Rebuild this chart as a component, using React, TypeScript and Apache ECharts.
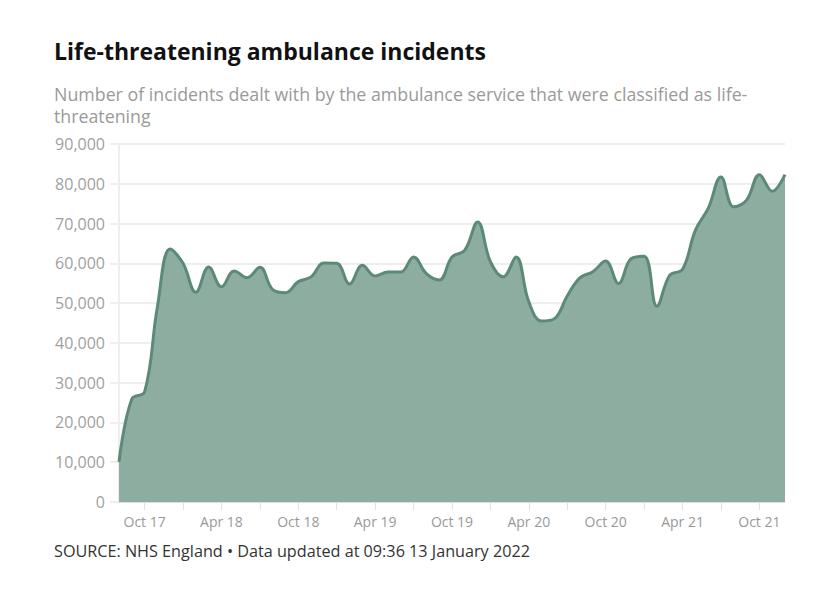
import React, { useEffect, useRef } from "react";
import * as echarts from "echarts";

const months: string[] = [
  "Aug 17", "Sep 17", "Oct 17", "Nov 17", "Dec 17",
  "Jan 18", "Feb 18", "Mar 18", "Apr 18", "May 18", "Jun 18", "Jul 18", "Aug 18", "Sep 18", "Oct 18", "Nov 18", "Dec 18",
  "Jan 19", "Feb 19", "Mar 19", "Apr 19", "May 19", "Jun 19", "Jul 19", "Aug 19", "Sep 19", "Oct 19", "Nov 19", "Dec 19",
  "Jan 20", "Feb 20", "Mar 20", "Apr 20", "May 20", "Jun 20", "Jul 20", "Aug 20", "Sep 20", "Oct 20", "Nov 20", "Dec 20",
  "Jan 21", "Feb 21", "Mar 21", "Apr 21", "May 21", "Jun 21", "Jul 21", "Aug 21", "Sep 21", "Oct 21", "Nov 21", "Dec 21",
];

const incidents: number[] = [
  10100, 25900, 27700, 49100, 63600,
  60000, 52700, 59100, 54100, 58100, 56400, 59000, 53400, 52600, 55400, 56600, 60100,
  60000, 54800, 59500, 56800, 57800, 57800, 61600, 57400, 55800, 61600, 63300, 70400,
  60400, 56600, 61600, 50300, 45500, 46100, 51800, 56400, 57900, 60600, 54900, 61200,
  61800, 49200, 57000, 58500, 68300, 73800, 81700, 74200, 75900, 82300, 78100, 82300,
];

const yTicks = { min: 0, max: 90000, step: 10000 };

const TITLE = "Life-threatening ambulance incidents";
const SUBTITLE = "Number of incidents dealt with by the ambulance service that were classified as life-\nthreatening";
const SOURCE = "SOURCE: NHS England \u2022 Data updated at 09:36 13 January 2022";

export default function App() {
  const ref = useRef<HTMLDivElement>(null);
  useEffect(() => {
    if (!ref.current) return;
    const chart = echarts.init(ref.current, undefined, { renderer: "svg" });
    const font = "'Open Sans', 'Noto Sans', sans-serif";
    chart.setOption({
      animation: false,
      backgroundColor: "#ffffff",
      textStyle: { fontFamily: font },
      title: [
        {
          text: TITLE,
          left: 54,
          top: 39,
          padding: 0,
          textStyle: { fontFamily: font, fontSize: 23, fontWeight: "bold", color: "#111111" },
        },
        {
          text: SUBTITLE,
          left: 54,
          top: 83,
          padding: 0,
          textStyle: { fontFamily: font, fontSize: 17.8, fontWeight: "normal", color: "#9a9a9a", lineHeight: 22 },
        },
        {
          text: SOURCE,
          left: 54,
          top: 543,
          padding: 0,
          textStyle: { fontFamily: font, fontSize: 16.2, fontWeight: "normal", color: "#333333" },
        },
      ],
      grid: { left: 119, right: 53, top: 144, bottom: 90, containLabel: false },
      xAxis: {
        type: "category",
        data: months,
        boundaryGap: false,
        axisLine: { show: true, lineStyle: { color: "#dddddd", width: 1 } },
        axisTick: {
          show: true,
          length: 8,
          interval: (_i: number, v: string) => /^(Jan|Apr|Jul|Oct)/.test(v),
          lineStyle: { color: "#e0e0e0", width: 1 },
        },
        axisLabel: {
          color: "#999999",
          fontSize: 14,
          margin: 12,
          interval: (_i: number, v: string) => /^(Apr|Oct)/.test(v),
        },
        splitLine: { show: false },
      },
      yAxis: {
        type: "value",
        min: yTicks.min,
        max: yTicks.max,
        interval: yTicks.step,
        axisLine: { show: true, lineStyle: { color: "#eeeeee", width: 2 } },
        axisTick: { show: true, length: 9, lineStyle: { color: "#eeeeee", width: 2 } },
        axisLabel: {
          color: "#9f9f9f",
          fontSize: 16,
          margin: 14,
          formatter: (v: number) => v.toLocaleString("en-GB"),
        },
        splitLine: { show: true, lineStyle: { color: "#eeeeee", width: 2 } },
      },
      series: [
        {
          type: "line",
          data: incidents,
          smooth: 0.4,
          symbol: "none",
          lineStyle: { color: "#5b8a78", width: 3 },
          areaStyle: { color: "#8eada1", opacity: 1 },
          z: 3,
        },
      ],
    });
    return () => chart.dispose();
  }, []);
  return (
    <div
      ref={ref}
      style={{ position: "fixed", left: 0, top: 0, width: 838, height: 592, background: "#fff" }}
    />
  );
}
